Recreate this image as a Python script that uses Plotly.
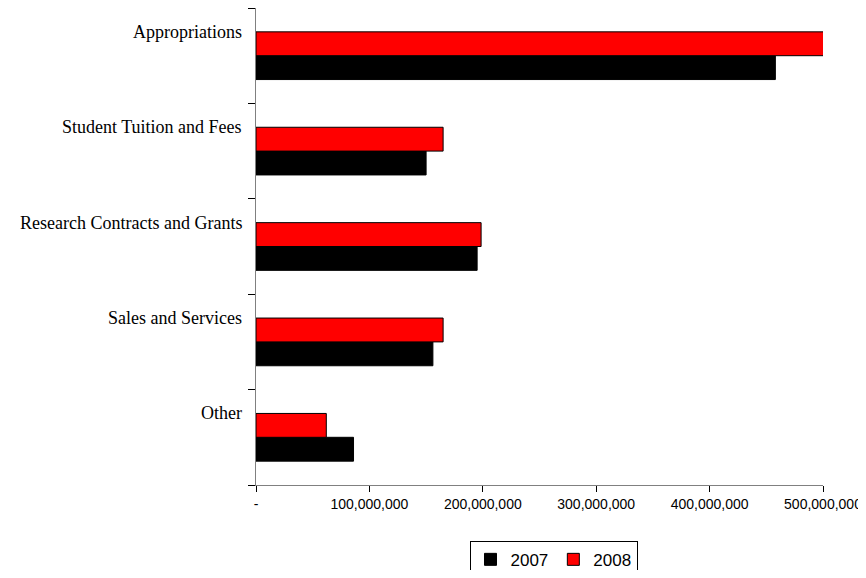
import plotly.graph_objects as go

categories = ["Appropriations", "Student Tuition and Fees", "Research Contracts and Grants",
              "Sales and Services", "Other"]
values_2007 = [458e6, 150e6, 195e6, 156e6, 86e6]
values_2008 = [505e6, 165e6, 198.5e6, 165e6, 62e6]
tick_vals = [0, 100e6, 200e6, 300e6, 400e6, 500e6]
tick_text = ["-", "100,000,000", "200,000,000", "300,000,000", "400,000,000", "500,000,000"]

cats_bottom_up = categories[::-1]
v07 = values_2007[::-1]
v08 = values_2008[::-1]

fig = go.Figure()
fig.add_trace(go.Bar(y=cats_bottom_up, x=v07, name="2007", orientation="h",
                     marker=dict(color="#000000", line=dict(color="#000000", width=1))))
fig.add_trace(go.Bar(y=cats_bottom_up, x=v08, name="2008", orientation="h",
                     marker=dict(color="#FF0000", line=dict(color="#000000", width=1))))

for c in categories:
    fig.add_annotation(x=0, xref="paper", y=c, yref="y", text=c, showarrow=False,
                       xanchor="right", yanchor="middle", xshift=-12, yshift=24,
                       font=dict(family="Liberation Serif", size=18, color="#000000"))

fig.update_layout(
    width=858, height=562,
    margin=dict(l=248, r=43, t=0, b=85, autoexpand=False),
    paper_bgcolor="white", plot_bgcolor="white",
    barmode="group", bargap=0.5, bargroupgap=0,
    showlegend=True,
    legend=dict(orientation="h", x=0.5247, xanchor="center", y=-0.117, yanchor="top",
                bordercolor="#000000", borderwidth=1,
                font=dict(family="Liberation Sans", size=17, color="#000000"),
                itemwidth=30, tracegroupgap=0),
    font=dict(family="Liberation Sans", color="#000000"),
)
fig.update_xaxes(range=[0, 500e6], tickvals=tick_vals, ticktext=tick_text, automargin=False,
                 showgrid=False, zeroline=False, showline=True, linecolor="#808080",
                 linewidth=1, ticks="outside", ticklen=6, tickcolor="#000000",
                 tickfont=dict(family="Liberation Sans", size=14, color="#000000"))
fig.update_yaxes(categoryorder="array", categoryarray=cats_bottom_up, automargin=False,
                 showticklabels=False, showgrid=False, zeroline=False,
                 showline=True, linecolor="#808080", linewidth=1,
                 ticks="outside", ticklen=7, tickcolor="#000000", tickson="boundaries")

fig.write_html("out.html")
